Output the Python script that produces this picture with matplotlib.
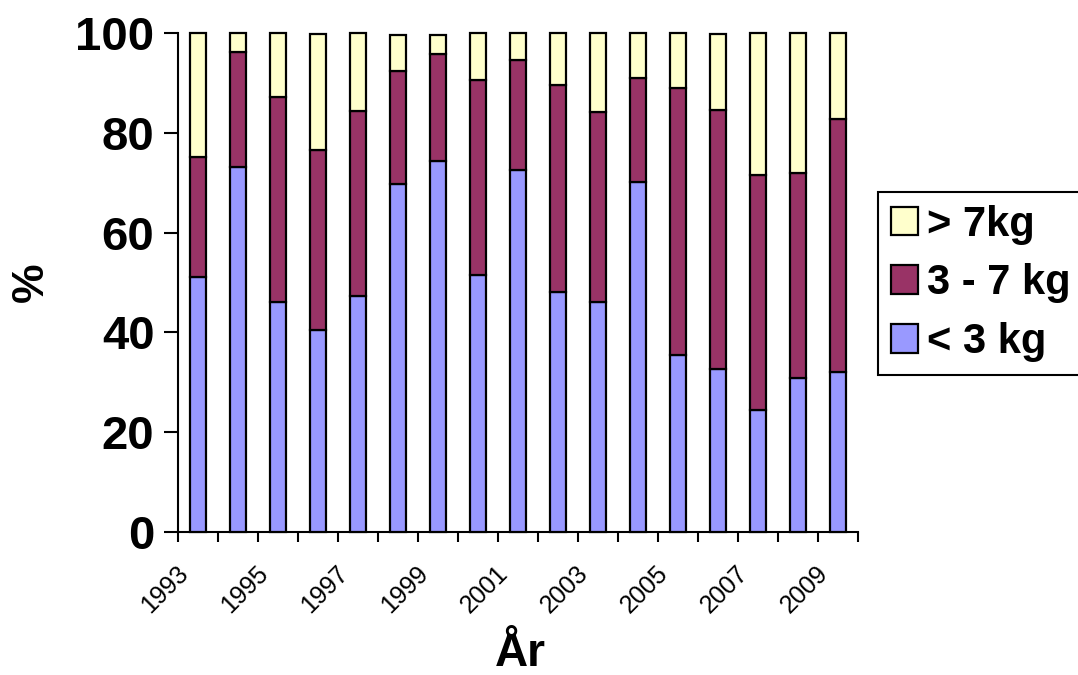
import matplotlib
matplotlib.use('Agg')
import matplotlib.pyplot as plt
import matplotlib.transforms as mtransforms
import numpy as np

plt.rcParams['font.family'] = ['Liberation Sans', 'DejaVu Sans']

years = [1993, 1994, 1995, 1996, 1997, 1998, 1999, 2000, 2001,
         2002, 2003, 2004, 2005, 2006, 2007, 2008, 2009]
small = [51.1, 73.1, 46.1, 40.5, 47.3, 69.8, 74.4, 51.5, 72.6,
         48.0, 46.0, 70.2, 35.4, 32.6, 24.4, 30.9, 32.1]   # < 3 kg
mid = [24.0, 23.1, 41.1, 36.1, 37.0, 22.6, 21.3, 39.1, 21.9,
       41.5, 38.1, 20.8, 53.6, 52.0, 47.2, 41.1, 50.6]     # 3 - 7 kg
large = [24.9, 3.8, 12.8, 23.1, 15.7, 7.2, 3.9, 9.4, 5.5,
         10.5, 15.9, 9.0, 11.0, 15.1, 28.4, 28.0, 17.3]    # > 7kg


def main():
    fig = plt.figure(figsize=(10.78, 6.75), dpi=100)
    ax = fig.add_axes([178 / 1078, 143 / 675, 680 / 1078, 499 / 675])

    x = np.arange(len(years))
    s = np.array(small)
    m = np.array(mid)
    l = np.array(large)

    kw = dict(width=0.4, edgecolor='black', linewidth=1.6, clip_on=False, zorder=3)
    b1 = ax.bar(x, s, color='#9999FF', label='< 3 kg', **kw)
    b2 = ax.bar(x, m, bottom=s, color='#993366', label='3 - 7 kg', **kw)
    b3 = ax.bar(x, l, bottom=s + m, color='#FFFFCC', label='> 7kg', **kw)

    ax.set_xlim(-0.5, len(years) - 0.5)
    ax.set_ylim(0, 100)

    ax.spines['top'].set_visible(False)
    ax.spines['right'].set_visible(False)
    ax.spines['left'].set_linewidth(1.5)
    ax.spines['bottom'].set_linewidth(1.5)

    ax.set_yticks([0, 20, 40, 60, 80, 100])
    ax.tick_params(axis='y', direction='out', length=10, width=1.5, pad=7,
                   labelsize=34)
    for t in ax.get_yticklabels():
        t.set_fontweight('bold')

    # ticks between categories, labels every other year
    ax.set_xticks(np.arange(-0.5, len(years), 1.0))
    ax.set_xticklabels([])
    ax.tick_params(axis='x', which='major', direction='out', length=7, width=1.5)
    ax.set_xticks(x[::2], minor=True)
    ax.set_xticklabels([str(y) for y in years[::2]], minor=True,
                       rotation=45, ha='right', fontsize=18)
    ax.tick_params(axis='x', which='minor', length=0, pad=21)
    shift = mtransforms.ScaledTranslation(-5 / 100, 0, fig.dpi_scale_trans)
    for t in ax.get_xticklabels(minor=True):
        t.set_transform(t.get_transform() + shift)

    ax.set_ylabel('%', fontsize=32, fontweight='bold')
    ax.yaxis.set_label_coords(-0.185, 0.5)
    ax.set_xlabel('År', fontsize=33, fontweight='bold')
    ax.xaxis.set_label_coords(0.503, -0.2)

    leg = fig.legend([b3, b2, b1], ['> 7kg', '3 - 7 kg', '< 3 kg'],
                     loc='upper left', bbox_to_anchor=(878 / 1078, 483 / 675),
                     prop={'size': 30, 'weight': 'bold'}, fancybox=False,
                     frameon=True, edgecolor='black', framealpha=1,
                     handlelength=0.67, handleheight=0.67, handletextpad=0.2,
                     borderpad=0.3, borderaxespad=0, labelspacing=0.45)
    leg.get_frame().set_linewidth(1.5)

    plt.savefig('out.png', dpi=100)


if __name__ == '__main__':
    main()
